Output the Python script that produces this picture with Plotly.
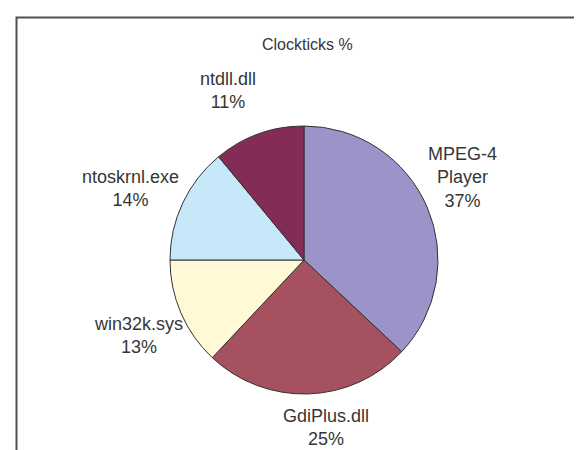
import plotly.graph_objects as go

# ---- data ----
labels = ["MPEG-4 Player", "GdiPlus.dll", "win32k.sys", "ntoskrnl.exe", "ntdll.dll"]
values = [37, 25, 13, 14, 11]
title_text = "Clockticks %"

# ---- style / layout ----
colors = ["#9A94C8", "#A5515F", "#FFF9D6", "#C6E8F8", "#832C55"]
label_lines = {"MPEG-4 Player": "MPEG-4<br>Player"}
# label block centers in pixels (layout positions, not data)
label_pos = [(454, 169), (318, 419), (130, 327), (122, 180), (220, 82)]

W, H = 582, 450
cx, cy, r = 296, 252, 134
FONT = "Liberation Sans, Arial, sans-serif"
TXT = "#363636"

fig = go.Figure(go.Pie(
    labels=labels,
    values=values,
    sort=False,
    direction="clockwise",
    rotation=0,
    marker=dict(colors=colors, line=dict(color="#333333", width=1)),
    textinfo="none",
    hoverinfo="label+percent",
    showlegend=False,
    domain=dict(x=[(cx - r) / W, (cx + r) / W], y=[1 - (cy + r) / H, 1 - (cy - r) / H]),
))

total = sum(values)
annotations = [dict(
    text=title_text, x=300 / W, y=1 - 37 / H, xref="paper", yref="paper",
    showarrow=False, xanchor="center", yanchor="middle",
    font=dict(family=FONT, size=16, color=TXT),
)]
for lab, val, (px, py) in zip(labels, values, label_pos):
    pct = round(100 * val / total)
    annotations.append(dict(
        text=f"{label_lines.get(lab, lab)}<br>{pct}%",
        x=px / W, y=1 - py / H, xref="paper", yref="paper",
        showarrow=False, xanchor="center", yanchor="middle", align="center",
        font=dict(family=FONT, size=18, color=TXT),
    ))

fig.update_layout(
    width=W, height=H,
    margin=dict(l=0, r=0, t=0, b=0),
    paper_bgcolor="white",
    plot_bgcolor="white",
    annotations=annotations,
    shapes=[dict(
        type="rect", xref="paper", yref="paper",
        x0=8.5 / W, x1=1.05, y0=-0.05, y1=1 - 9.5 / H,
        line=dict(color="#505050", width=2), fillcolor="rgba(0,0,0,0)", layer="below",
    )],
)

fig.write_html("out.html")
